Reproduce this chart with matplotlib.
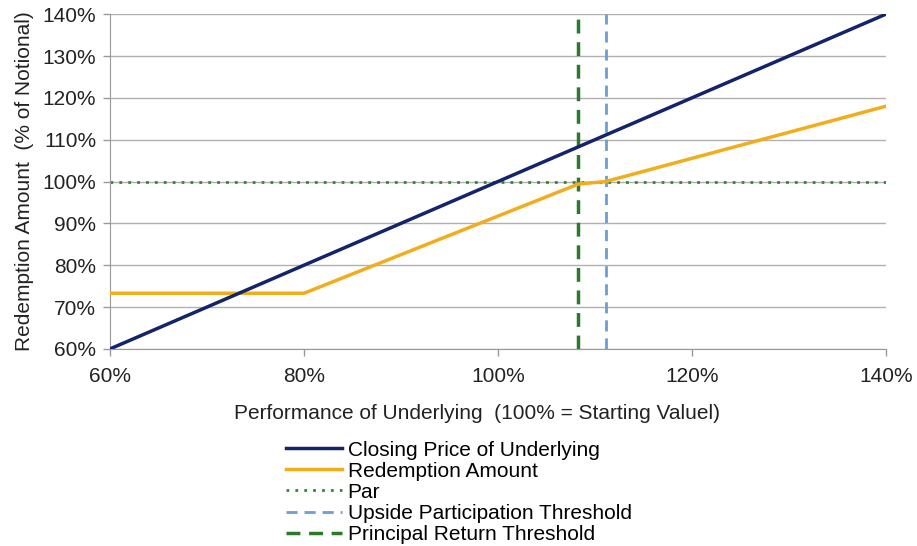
import matplotlib.pyplot as plt
from matplotlib.ticker import FuncFormatter
from matplotlib.lines import Line2D

plt.rcParams['font.family'] = ['Liberation Sans', 'DejaVu Sans']

# Data (percent)
perf = [60, 140]
closing = [60, 140]
redeem_x = [60, 80, 108.3, 111.1, 140]
redeem_y = [73.3, 73.3, 99.4, 100, 118]
par_level = 100
upside_threshold = 111.1
principal_threshold = 108.3

navy = '#14246a'
orange = '#f2ad1d'
green = '#2f8a2f'
blue = '#6a9fd4'
dgreen = '#2b7a2b'

fig = plt.figure(figsize=(9.17, 5.46), dpi=100)
ax = fig.add_axes([0.12, 0.361, 0.846, 0.613])

ax.plot(perf, closing, color=navy, lw=2.5, zorder=4)
ax.plot(redeem_x, redeem_y, color=orange, lw=2.5, zorder=3)
ax.axhline(par_level, color=green, lw=2, ls=(0, (1, 2.2)), zorder=2)
ax.axvline(upside_threshold, color=blue, lw=2, ls=(0, (4, 2.5)), zorder=2)
ax.axvline(principal_threshold, color=dgreen, lw=2.5, ls=(0, (4, 2.5)), zorder=2)

ax.set_xlim(60, 140)
ax.set_ylim(60, 140)
ax.set_xticks(range(60, 141, 20))
ax.set_yticks(range(60, 141, 10))
pct = FuncFormatter(lambda v, p: f'{v:.0f}%')
ax.xaxis.set_major_formatter(pct)
ax.yaxis.set_major_formatter(pct)
ax.tick_params(labelsize=15, length=5, width=1, color='#999999', labelcolor='#222222')
ax.tick_params(axis='y', pad=5)
ax.tick_params(axis='x', pad=8)
ax.grid(axis='y', color='#b0b0b0', lw=1)
ax.set_axisbelow(True)
for s in ['top', 'right']:
    ax.spines[s].set_visible(False)
for s in ['left', 'bottom']:
    ax.spines[s].set_color('#999999')

ax.set_xlabel('Performance of Underlying  (100% = Starting Valuel)', fontsize=15, labelpad=12, color='#222222')
ax.xaxis.set_label_coords(0.473, -0.165)
ax.set_ylabel('Redemption Amount  (% of Notional)', fontsize=15, labelpad=6, color='#222222')

handles = [
    Line2D([], [], color=navy, lw=2.5),
    Line2D([], [], color=orange, lw=2.5),
    Line2D([], [], color=green, lw=2, ls=(0, (1, 2.2))),
    Line2D([], [], color=blue, lw=2, ls=(0, (4, 2.5))),
    Line2D([], [], color=dgreen, lw=2.5, ls=(0, (4, 2.5))),
]
labels = ['Closing Price of Underlying', 'Redemption Amount', 'Par',
          'Upside Participation Threshold', 'Principal Return Threshold']
fig.legend(handles, labels, loc='upper left', bbox_to_anchor=(0.312, 0.193),
           frameon=False, fontsize=15, handlelength=2.7, handletextpad=0.25,
           labelspacing=0.1, borderaxespad=0, borderpad=0)

fig.savefig('out.png', dpi=100)
